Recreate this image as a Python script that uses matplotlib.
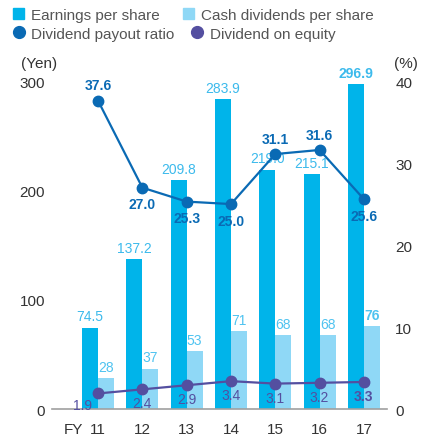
import matplotlib.pyplot as plt
from matplotlib.lines import Line2D
from matplotlib.patches import Patch
import numpy as np

# Данные с графика
years = ["11", "12", "13", "14", "15", "16", "17"]
eps = [74.5, 137.2, 209.8, 283.9, 219.0, 215.1, 296.9]
cash_div = [28, 37, 53, 71, 68, 68, 76]
payout = [37.6, 27.0, 25.3, 25.0, 31.1, 31.6, 25.6]
doe = [1.9, 2.4, 2.9, 3.4, 3.1, 3.2, 3.3]

# Позиции подписей для коэффициента выплат: выше (1) или ниже (-1)
payout_side = [1, -1, -1, -1, 1, 1, -1]

C_EPS = "#00b4ea"
C_CASH = "#8fd8f6"
C_PAYOUT = "#0a6ab4"
C_DOE = "#544fa0"
C_EPS_TXT = "#3cbaec"
C_CASH_TXT = "#4fc3f0"
C_TEXT = "#333333"

plt.rcParams['font.family'] = ['Liberation Sans', 'DejaVu Sans']

fig = plt.figure(figsize=(4.28, 4.39), dpi=100)
ax = fig.add_axes([0.1215, 0.066, 0.7825, 0.747])
ax2 = ax.twinx()

x = np.arange(len(years))
w = 0.36
FS = 10

ax.bar(x - w / 2, eps, width=w, color=C_EPS, zorder=2)
ax.bar(x + w / 2, cash_div, width=w, color=C_CASH, zorder=2)

ax.set_xlim(-1.04, 6.52)
ax.set_ylim(0, 300)
ax2.set_ylim(0, 40)

for i in range(len(years)):
    last = i == len(years) - 1
    ax.annotate(f"{eps[i]:.1f}", (x[i] - w / 2, eps[i]), xytext=(0, 3),
                textcoords="offset points", ha="center", va="bottom",
                color=C_EPS_TXT, fontsize=FS,
                fontweight="bold" if last else "normal", annotation_clip=False)
    ax.annotate(f"{cash_div[i]}", (x[i] + w / 2, cash_div[i]), xytext=(0, 3),
                textcoords="offset points", ha="center", va="bottom",
                color=C_CASH_TXT, fontsize=FS,
                fontweight="bold" if last else "normal", annotation_clip=False)

ax2.plot(x, payout, color=C_PAYOUT, lw=1.6, marker="o", ms=7.5, zorder=4)
ax2.plot(x, doe, color=C_DOE, lw=1.6, marker="o", ms=7.5, zorder=4)

for i in range(len(years)):
    if payout_side[i] > 0:
        off, va = (0, 6), "bottom"
    else:
        off, va = (0, -7), "top"
    ax2.annotate(f"{payout[i]:.1f}", (x[i], payout[i]), xytext=off,
                 textcoords="offset points", ha="center", va=va,
                 color=C_PAYOUT, fontsize=FS, fontweight="bold",
                 annotation_clip=False)
    off = (-11, -3) if i == 0 else (0, -5)
    ax2.annotate(f"{doe[i]:.1f}", (x[i], doe[i]), xytext=off,
                 textcoords="offset points", ha="center", va="top",
                 color=C_DOE, fontsize=FS,
                 fontweight="bold" if i == len(years) - 1 else "normal",
                 annotation_clip=False)

# Оси
for a in (ax, ax2):
    for s in ("top", "left", "right", "bottom"):
        a.spines[s].set_visible(False)
ax.axhline(0, color="#a0a0a0", lw=1.2, zorder=3, clip_on=False)

ax.set_yticks([0, 100, 200, 300])
ax2.set_yticks([0, 10, 20, 30, 40])
ax.set_xticks(x)
ax.set_xticklabels(years)
ax.tick_params(axis="both", length=0, labelsize=11, colors=C_TEXT)
ax.tick_params(axis="y", pad=5)
ax.tick_params(axis="x", pad=9)
ax2.tick_params(axis="y", length=0, labelsize=11, colors=C_TEXT, pad=6)

ax.annotate("FY", (0, 0), xytext=(-18, -9), textcoords="offset points",
            ha="center", va="top", fontsize=11, color=C_TEXT, annotation_clip=False)
fig.text(0.05, 0.838, "(Yen)", fontsize=11, color=C_TEXT, ha="left", va="bottom")
fig.text(0.92, 0.838, "(%)", fontsize=11, color=C_TEXT, ha="left", va="bottom")

# Легенда
h1 = [Patch(color=C_EPS, label="Earnings per share"),
      Patch(color=C_CASH, label="Cash dividends per share")]
h2 = [Line2D([], [], color=C_PAYOUT, marker="o", ls="", ms=8.5, label="Dividend payout ratio"),
      Line2D([], [], color=C_DOE, marker="o", ls="", ms=8.5, label="Dividend on equity")]
leg_kw = dict(ncol=2, frameon=False, fontsize=11, handlelength=0.75, handleheight=0.75,
              handletextpad=0.45, labelcolor="#555555",
              borderaxespad=0, borderpad=0)
fig.legend(handles=h1, loc="upper left", bbox_to_anchor=(0.03, 0.979),
           columnspacing=1.5, **leg_kw)
fig.legend(handles=h2, loc="upper left", bbox_to_anchor=(0.03, 0.937),
           columnspacing=1.1, **leg_kw)

fig.savefig("out.png", dpi=100)
